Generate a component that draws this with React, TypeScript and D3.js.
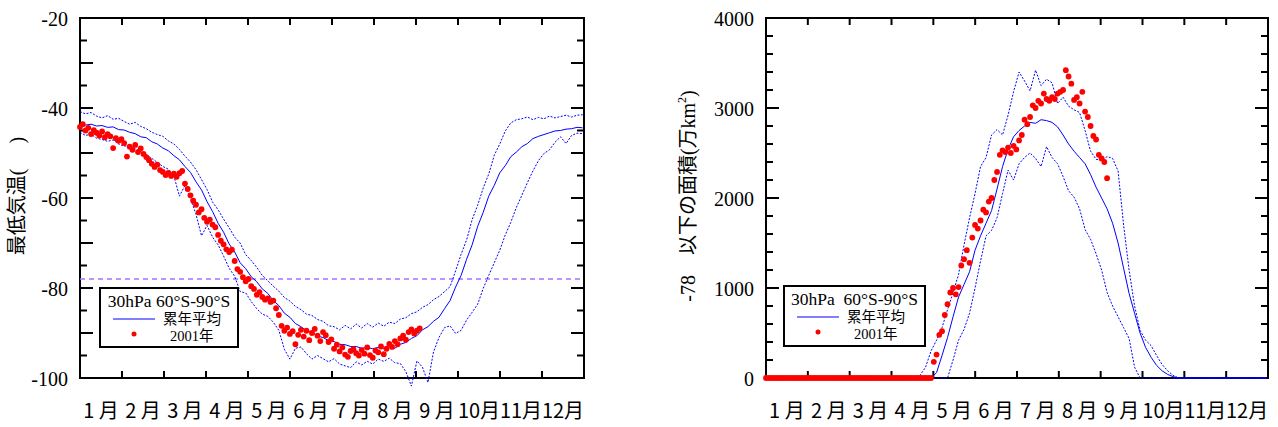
import React from 'react';
import * as d3 from 'd3';

// ---------- data ----------
const MONTH_LABELS = ['1 月', '2 月', '3 月', '4 月', '5 月', '6 月', '7 月', '8 月', '9 月', '10月', '11月', '12月'];
const LINE_STEP = 4; // days between line samples (day 0,4,...,364)
const DOT_STEP = 2; // days between 2001 samples

// Left panel: minimum temperature (°C)
const TEMP_MEAN = [
  -43.5, -43.8, -43.6, -44.0, -43.9, -44.3, -44.2, -44.8, -44.9, -45.4,
  -45.7, -46.4, -46.6, -47.5, -48.0, -48.9, -49.5, -50.6, -51.5, -53.0,
  -54.3, -56.4, -58.2, -60.8, -63.0, -65.6, -67.6, -70.2, -72.0, -74.4,
  -75.7, -77.5, -78.6, -80.2, -81.2, -82.8, -83.9, -85.6, -86.5, -87.9,
  -88.6, -89.5, -89.9, -90.7, -91.0, -91.7, -91.9, -92.5, -92.6, -93.0,
  -93.0, -93.4, -93.2, -93.5, -93.2, -93.5, -93.1, -93.4, -92.5, -92.1,
  -91.2, -90.6, -89.3, -88.6, -87.4, -86.5, -84.6, -82.8, -79.8, -77.2,
  -73.6, -70.4, -66.3, -63.2, -59.6, -57.2, -54.4, -52.8, -50.8, -49.8,
  -48.6, -47.9, -46.8, -46.3, -45.9, -45.5, -45.1, -45.0, -44.7, -44.6,
  -44.3, -44.4,
];
const TEMP_MAX = [
  -40.8, -41.3, -41.0, -41.8, -42.2, -41.7, -42.5, -42.3, -43.0, -43.6,
  -43.2, -44.1, -44.6, -45.4, -45.9, -46.3, -47.3, -48.0, -49.2, -50.7,
  -52.0, -53.7, -55.9, -58.1, -60.9, -62.6, -64.7, -66.6, -68.7, -70.0,
  -72.6, -73.9, -75.4, -77.2, -78.4, -79.6, -80.7, -82.1, -82.9, -84.1,
  -84.8, -85.8, -86.1, -87.0, -87.4, -88.4, -88.6, -89.3, -88.3, -89.1,
  -88.0, -88.9, -87.9, -88.7, -87.8, -88.5, -87.6, -87.9, -86.9, -86.6,
  -85.7, -85.3, -84.3, -83.7, -82.6, -81.9, -80.8, -79.7, -76.2, -72.5,
  -69.3, -64.8, -61.6, -57.8, -54.7, -50.5, -48.0, -45.1, -43.3, -42.6,
  -42.4, -42.0, -42.6, -42.1, -42.4, -41.8, -42.2, -41.9, -41.6, -42.0,
  -41.6, -41.5,
];
const TEMP_MIN = [
  -45.4, -46.1, -45.8, -46.7, -47.0, -47.4, -47.1, -48.0, -48.5, -48.2,
  -49.0, -49.7, -50.4, -51.2, -52.1, -53.0, -53.6, -55.1, -59.6, -57.2,
  -60.1, -63.6, -68.4, -66.1, -68.7, -70.4, -72.9, -75.6, -77.4, -80.8,
  -81.1, -83.0, -84.6, -85.8, -86.3, -87.6, -89.4, -93.6, -95.8, -93.4,
  -93.1, -94.6, -95.8, -95.0, -95.7, -96.4, -95.7, -96.9, -97.3, -97.7,
  -96.4, -97.1, -96.3, -96.9, -95.8, -96.3, -95.6, -96.6, -96.8, -98.6,
  -101.8, -96.2, -97.6, -101.0, -94.2, -91.0, -88.8, -88.4, -90.1, -89.4,
  -87.1, -85.4, -83.6, -80.1, -77.2, -74.4, -71.6, -68.2, -65.4, -62.1,
  -59.4, -56.6, -54.0, -51.7, -50.1, -49.3, -47.6, -46.4, -47.9, -46.1,
  -45.6, -45.7,
];
const TEMP_2001 = [
  -44.2, -43.6, -45.0, -44.4, -45.8, -44.9, -45.5, -46.1, -45.2, -46.5,
  -45.8, -46.3, -48.9, -46.7, -47.3, -46.9, -47.8, -50.8, -48.6, -49.3,
  -48.2, -49.8, -49.0, -50.2, -50.9, -51.6, -52.4, -53.1, -52.6, -53.8,
  -54.2, -54.9, -54.4, -55.1, -54.6, -55.3, -54.5, -54.0, -56.8, -58.0,
  -59.4, -60.6, -61.5, -63.2, -62.5, -64.4, -65.3, -64.8, -65.9, -66.5,
  -68.2, -69.5, -70.3, -71.4, -72.0, -71.5, -74.0, -75.8, -76.4, -77.6,
  -78.5, -78.0, -79.6, -80.2, -81.5, -80.9, -82.0, -82.6, -82.3, -83.1,
  -82.8, -84.5, -86.0, -88.4, -89.5, -88.8, -90.2, -89.6, -92.5, -90.4,
  -89.3, -90.8, -89.5, -91.6, -90.0, -89.1, -90.6, -91.8, -89.8, -90.5,
  -92.0, -91.4, -93.5, -92.6, -94.1, -93.2, -94.8, -95.3, -94.0, -93.6,
  -94.5, -95.0, -93.8, -94.6, -93.2, -94.9, -95.5, -93.9, -94.3, -93.0,
  -94.7, -93.5, -92.4, -93.1, -91.8, -92.5, -91.2, -90.6, -91.5, -89.8,
  -89.2, -90.1, -89.5, -89.0,
];

// Right panel: area below -78 (10^4 km^2)
const AREA_MEAN = [
  0, 0, 0, 0, 0, 0, 0, 0, 0, 0,
  0, 0, 0, 0, 0, 0, 0, 0, 0, 0,
  0, 0, 0, 0, 0, 0, 0, 0, 0, 0,
  0, 60, 250, 450, 680, 900, 1040, 1180, 1420, 1580,
  1720, 1860, 2100, 2350, 2540, 2680, 2750, 2800, 2840, 2830,
  2870, 2860, 2840, 2790, 2700, 2600, 2520, 2450, 2380, 2260,
  2120, 2000, 1880, 1720, 1500, 1220, 940, 720, 500, 340,
  230, 140, 80, 40, 15, 0, 0, 0, 0, 0,
  0, 0, 0, 0, 0, 0, 0, 0, 0, 0,
  0, 0,
];
const AREA_MAX = [
  0, 0, 0, 0, 0, 0, 0, 0, 0, 0,
  0, 0, 0, 0, 0, 0, 0, 0, 0, 0,
  0, 0, 0, 0, 0, 0, 0, 0, 30, 120,
  300, 420, 560, 760, 950, 1150, 1480, 1780, 2050, 2350,
  2450, 2700, 2760, 2700, 2920, 3180, 3400, 3300, 3190, 3420,
  3250, 3320, 3280, 3050, 3120, 3020, 2980, 2950, 2750, 2520,
  2430, 2420, 2460, 2440, 2300, 1700, 1200, 800, 530, 420,
  360, 250, 150, 80, 30, 0, 0, 0, 0, 0,
  0, 0, 0, 0, 0, 0, 0, 0, 0, 0,
  0, 0,
];
const AREA_MIN = [
  0, 0, 0, 0, 0, 0, 0, 0, 0, 0,
  0, 0, 0, 0, 0, 0, 0, 0, 0, 0,
  0, 0, 0, 0, 0, 0, 0, 0, 0, 0,
  0, 0, 0, 0, 200, 420, 540, 720, 1000, 1300,
  1580, 1640, 1780, 2050, 2310, 2200, 2380, 2450, 2500, 2440,
  2350, 2570, 2450, 2380, 2240, 2080, 2010, 1880, 1650, 1540,
  1380, 1200, 950, 800, 680, 560, 440, 120, 0, 0,
  0, 0, 0, 0, 0, 0, 0, 0, 0, 0,
  0, 0, 0, 0, 0, 0, 0, 0, 0, 0,
  0, 0,
];
const AREA_2001 = [
  0, 0, 0, 0, 0, 0, 0, 0, 0, 0,
  0, 0, 0, 0, 0, 0, 0, 0, 0, 0,
  0, 0, 0, 0, 0, 0, 0, 0, 0, 0,
  0, 0, 0, 0, 0, 0, 0, 0, 0, 0,
  0, 0, 0, 0, 0, 0, 0, 0, 0, 0,
  0, 0, 0, 0, 0, 0, 0, 0, 0, 0,
  0, 180, 260, 480, 520, 700, 820, 950, 1000, 930,
  1010, 1250, 1320, 1420, 1280, 1560, 1700, 1660, 1750, 1870,
  1840, 1960, 2000, 2200, 2290, 2480, 2530, 2510, 2560, 2500,
  2580, 2540, 2640, 2700, 2870, 2820, 2900, 3030, 3000, 3080,
  3050, 3160, 3100, 3080, 3120, 3100, 3160, 3180, 3200, 3420,
  3350, 3270, 3090, 3120, 3050, 3180, 2960, 2900, 2800, 2690,
  2650, 2480, 2440, 2400, 2220,
];

const TEMP_TICK_LABELS = [-20, -40, -60, -80, -100];
const AREA_TICK_LABELS = [0, 1000, 2000, 3000, 4000];
const REF_TEMP = -78;

// ---------- drawing ----------
const SERIF = "'Liberation Serif', 'Times New Roman', 'Noto Sans CJK JP', serif";
const CJK = "'Noto Sans CJK JP', sans-serif";
const BLUE = '#0000ff';
const RED = '#ff0000';

type PanelProps = {
  x0: number; x1: number; y0: number; y1: number;
  domain: [number, number];
  tickStep: number; majorStep: number; labels: number[];
  mean: number[]; max: number[]; min: number[]; obs: number[];
  refLine?: number;
  title: React.ReactNode; titleX: number; titleY: number;
  legend: { x: number; y: number; w: number; h: number; head: string };
};

function Panel(p: PanelProps) {
  const x = d3.scaleLinear().domain([0, 365]).range([p.x0, p.x1]);
  const y = d3.scaleLinear().domain(p.domain).range([p.y1, p.y0]);
  const mx = d3.scaleLinear().domain([0, 12]).range([p.x0, p.x1]);
  const line = (vals: number[]) =>
    d3.line<number>().x((_, i) => x(i * LINE_STEP)).y((d) => y(d))(vals) || '';
  const ticks = d3.range(p.domain[0], p.domain[1] + 1e-6, p.tickStep);
  const monthTicks = d3.range(1, 12);
  const lg = p.legend;
  return (
    <g>
      {/* frame and ticks */}
      <rect x={p.x0} y={p.y0} width={p.x1 - p.x0} height={p.y1 - p.y0} fill="none" stroke="#000" strokeWidth={2} />
      {ticks.map((t) => {
        const len = Math.abs(t % p.majorStep) < 1e-6 ? 13 : 7;
        return (
          <g key={t}>
            <line x1={p.x0} x2={p.x0 + len} y1={y(t)} y2={y(t)} stroke="#000" strokeWidth={2} />
            <line x1={p.x1} x2={p.x1 - len} y1={y(t)} y2={y(t)} stroke="#000" strokeWidth={2} />
          </g>
        );
      })}
      {monthTicks.map((m) => (
        <g key={m}>
          <line x1={mx(m)} x2={mx(m)} y1={p.y0} y2={p.y0 + 7} stroke="#000" strokeWidth={2} />
          <line x1={mx(m)} x2={mx(m)} y1={p.y1} y2={p.y1 - 7} stroke="#000" strokeWidth={2} />
        </g>
      ))}
      {p.refLine !== undefined && (
        <line x1={p.x0} x2={p.x1} y1={y(p.refLine)} y2={y(p.refLine)}
          stroke="#a274ff" strokeWidth={1.5} strokeDasharray="5 4" />
      )}
      {/* data */}
      <path d={line(p.max)} fill="none" stroke={BLUE} strokeWidth={1} strokeDasharray="2 1.5" />
      <path d={line(p.min)} fill="none" stroke={BLUE} strokeWidth={1} strokeDasharray="2 1.5" />
      <path d={line(p.mean)} fill="none" stroke={BLUE} strokeWidth={1} />
      {p.obs.map((v, i) => (
        <circle key={i} cx={x(i * DOT_STEP)} cy={y(v)} r={2.9} fill={RED} />
      ))}
      {p.labels.map((t) => (
        <text key={t} x={p.x0 - 12} y={y(t) + 8} textAnchor="end" fontFamily={SERIF} fontSize={20}>{t}</text>
      ))}
      {MONTH_LABELS.map((m, i) => (
        <text key={m} x={mx(i + 0.5)} y={418} textAnchor="middle" fontFamily={CJK} fontSize={20}
          style={{ whiteSpace: 'pre' }}>{m}</text>
      ))}
      <g transform={`translate(${p.titleX},${p.titleY}) rotate(-90)`}>
        <text x={0} y={0} textAnchor="middle" fontFamily={SERIF} fontSize={20} style={{ whiteSpace: 'pre' }}>{p.title}</text>
      </g>
      {/* legend */}
      <rect x={lg.x} y={lg.y} width={lg.w} height={lg.h} fill="#fff" stroke="#000" strokeWidth={2} />
      <text x={lg.x + lg.w / 2} y={lg.y + 19} textAnchor="middle" fontFamily={SERIF} fontSize={17.5}
        style={{ whiteSpace: 'pre' }}>{lg.head}</text>
      <line x1={lg.x + 13} x2={lg.x + 55} y1={lg.y + 31} y2={lg.y + 31} stroke={BLUE} strokeWidth={1} />
      <text x={lg.x + 63} y={lg.y + 36} fontFamily={SERIF} fontSize={14.5}>累年平均</text>
      <circle cx={lg.x + 34} cy={lg.y + 46} r={2.5} fill={RED} />
      <text x={lg.x + 70} y={lg.y + 53} fontFamily={SERIF} fontSize={14.5}>2001年</text>
    </g>
  );
}

export default function App() {
  return (
    <svg width={1278} height={427} style={{ position: 'absolute', left: 0, top: 0, background: '#fff' }}>
      <Panel x0={80} x1={584} y0={18} y1={378} domain={[-100, -20]} tickStep={5} majorStep={10}
        labels={TEMP_TICK_LABELS} mean={TEMP_MEAN} max={TEMP_MAX} min={TEMP_MIN} obs={TEMP_2001}
        refLine={REF_TEMP}
        title={'最低気温(　 )'} titleX={24} titleY={196}
        legend={{ x: 100, y: 288, w: 138, h: 59, head: '30hPa 60°S-90°S' }} />
      <Panel x0={766} x1={1268} y0={18} y1={378} domain={[0, 4000]} tickStep={200} majorStep={1000}
        labels={AREA_TICK_LABELS} mean={AREA_MEAN} max={AREA_MAX} min={AREA_MIN} obs={AREA_2001}
        title={<>{'-78　以下の面積(万km'}<tspan dy={-9} fontSize={12}>2</tspan><tspan dy={9}>)</tspan></>}
        titleX={695} titleY={196}
        legend={{ x: 784, y: 286, w: 141, h: 60, head: '30hPa  60°S-90°S' }} />
    </svg>
  );
}
